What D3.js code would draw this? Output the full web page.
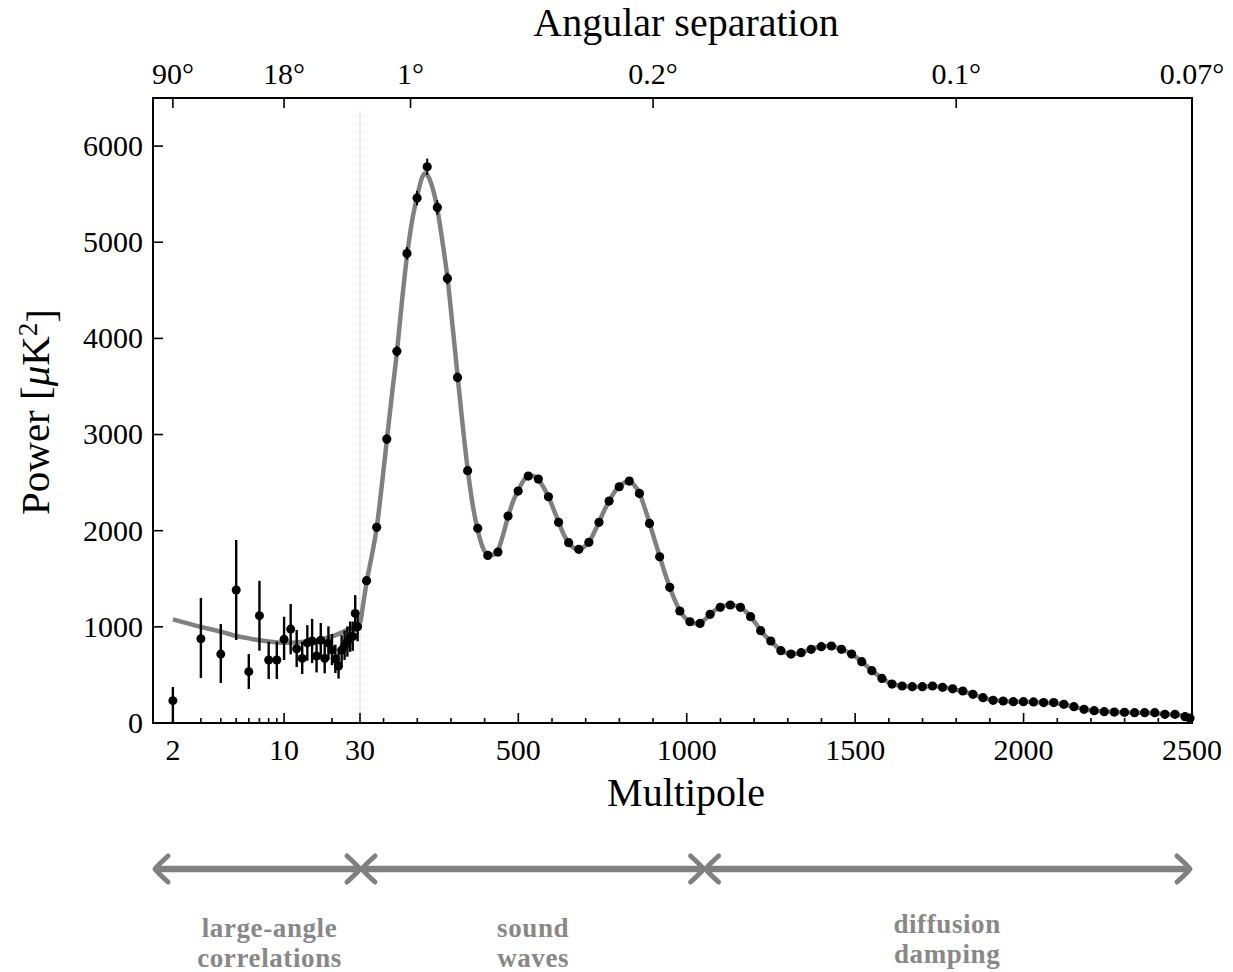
<!DOCTYPE html>
<html>
<head>
<meta charset="utf-8">
<script src="https://cdn.jsdelivr.net/npm/d3@7"></script>
<style>
  html, body { margin: 0; padding: 0; background: #fff; }
  svg { display: block; }
  text { font-family: "Liberation Serif", "DejaVu Serif", serif; }
</style>
</head>
<body>
<svg id="chart" width="1233" height="972"></svg>
<script>
// ---------------- DATA ----------------
// Low-multipole points (l = 2..29), with asymmetric error bars
const lowEll   = [2,3,4,5,6,7,8,9,10,11,12,13,14,15,16,17,18,19,20,21,22,23,24,25,26,27,28,29];
const lowPower = [232,876,717,1383,534,1116,655,655,870,977,772,672,833,853,696,860,672,830,762,665,592,758,805,845,895,900,1140,1000];
const lowErrMinus = [222,408,301,520,181,364,198,198,215,263,190,163,185,230,170,180,155,170,160,145,130,150,150,155,155,150,190,150];
const lowErrPlus  = [142,424,312,520,183,363,190,190,235,260,195,173,185,230,175,180,165,175,165,150,140,155,155,160,160,155,190,160];

// Binned high-multipole points
const binEll = [49.5,79.5,109.5,139.5,169.5,199.5,229.5,259.5,289.5,319.5,349.5,379.5,409.5,439.5,469.5,499.5,
  529.5,559.5,589.5,619.5,649.5,679.5,709.5,739.5,769.5,799.5,829.5,859.5,889.5,919.5,949.5,979.5,1009.5,1039.5,
  1069.5,1099.5,1129.5,1159.5,1189.5,1219.5,1249.5,1279.5,1309.5,1339.5,1369.5,1399.5,1429.5,1459.5,1489.5,1519.5,
  1549.5,1579.5,1609.5,1639.5,1669.5,1699.5,1729.5,1759.5,1789.5,1819.5,1849.5,1879.5,1909.5,1939.5,1969.5,1999.5,
  2029.5,2059.5,2089.5,2119.5,2149.5,2179.5,2209.5,2239.5,2269.5,2299.5,2329.5,2359.5,2389.5,2419.5,2449.5,2479.5,2494];
const binPower = [1480,2035,2953,3865,4884,5459,5785,5362,4624,3594,2624,2025,1743,1778,2152,2412,
  2568,2537,2353,2087,1875,1806,1879,2087,2308,2457,2516,2388,2076,1729,1411,1165,1053,1036,
  1130,1203,1227,1203,1106,960,853,752,717,731,766,794,801,766,717,638,
  544,464,405,385,378,378,385,371,355,333,298,263,236,229,222,222,
  219,212,212,194,170,142,128,118,114,111,107,107,107,90,90,66,50];
const binErr = [40,45,50,55,65,75,85,75,60,50,40,35,30,30,30,30,30,30,30,30,30,30,30,30,30,30,30,30,30,30,30,30,30,30,
  30,30,30,30,30,30,30,30,30,30,30,30,30,30,30,30,30,30,30,30,30,30,30,30,30,30,30,30,30,30,30,30,
  30,30,30,30,30,30,30,30,30,30,30,30,30,30,30,30,30];

// Best-fit model curve
const modelEll = [2,3,4,5,6,7,8,10,12,15,20,25,30,40,50,65,80,95,110,125,140,155,170,185,200,215,222,230,245,260,275,290,
  305,320,335,350,365,380,395,410,425,440,455,470,485,500,515,530,545,560,575,590,605,620,635,650,665,680,695,710,
  725,740,755,770,785,800,815,830,845,860,875,890,905,920,935,950,965,980,995,1010,1025,1040,1055,1070,1085,1100,
  1115,1130,1145,1160,1175,1190,1205,1220,1235,1250,1265,1280,1295,1310,1325,1340,1355,1370,1385,1400,1415,1430,
  1445,1460,1475,1490,1505,1520,1535,1550,1565,1580,1595,1610,1625,1640,1660,1680,1700,1720,1740,1760,1780,1800,
  1820,1840,1860,1880,1900,1920,1940,1960,1980,2000,2020,2040,2060,2080,2100,2120,2140,2160,2180,2200,2220,2240,
  2260,2280,2300,2340,2380,2420,2460,2500];
const modelPower = [1078,1000,950,905,880,860,848,835,838,855,900,970,1040,1250,1470,1740,2040,2480,2950,3420,3870,4400,4870,5230,5480,5680,5716,5700,5570,5340,5000,4620,
  4120,3600,3090,2630,2260,2000,1820,1750,1750,1800,1960,2150,2310,2420,2520,2570,2570,2530,2450,2350,2220,2090,1960,1870,1820,1805,1830,1885,
  1980,2090,2210,2310,2400,2460,2500,2510,2470,2385,2240,2075,1900,1730,1560,1410,1275,1165,1095,1055,1035,1040,1080,1130,1175,1205,
  1222,1227,1220,1200,1160,1105,1035,960,900,850,800,755,730,718,720,732,750,768,785,795,800,800,
  786,766,743,715,680,638,590,545,503,465,432,406,392,385,380,378,379,382,380,372,360,345,
  330,310,287,263,245,233,227,224,222,221,219,216,212,208,202,192,177,160,145,132,124,118,
  115,112,110,107,104,93,82,68];

// Axis tick definitions
const yTicks = [0,1000,2000,3000,4000,5000,6000];
const xMajorTicks = [2,10,30,500,1000,1500,2000,2500];
const xMinorTicks = [3,4,5,6,7,8,9,20,100,200,300,400,600,700,800,900,1100,1200,1300,1400,1600,1700,1800,1900,2100,2200,2300,2400];
const topTickEll = [2,10,180,900,1800,2500];
const topTickLabels = ["90°","18°","1°","0.2°","0.1°","0.07°"];

// Regime annotations
const regimeStart = [1.5, 30, 1050];
const regimeEnd   = [30, 1050, 2500];
const regimeLabels = [["large-angle","correlations"],["sound","waves"],["diffusion","damping"]];
const regimeLabelEll = [8.1, 544, 1773];

// ---------------- LAYOUT ----------------
const L = 153, R = 1192, T = 98, B = 723;
const svg = d3.select("#chart");

const xLog = d3.scaleLog().domain([1.5, 30]).range([L, 360]);
const xLin = d3.scaleLinear().domain([30, 2500]).range([360, R]);
const x = l => (l <= 30 ? xLog(l) : xLin(l));
const y = d3.scaleLinear().domain([0, 6500]).range([B, T]);

// dotted divider at l = 30
svg.append("line")
  .attr("x1", x(30)).attr("x2", x(30))
  .attr("y1", y(0)).attr("y2", y(6370))
  .attr("stroke", "#bbb").attr("stroke-width", 1)
  .attr("stroke-dasharray", "1,1");

// model curve
const modelData = modelEll.map((l, i) => [l, modelPower[i]]);
svg.append("path")
  .datum(modelData)
  .attr("fill", "none")
  .attr("stroke", "#808080")
  .attr("stroke-width", 4.5)
  .attr("stroke-linejoin", "round")
  .attr("d", d3.line().x(d => x(d[0])).y(d => y(d[1])).curve(d3.curveMonotoneX));

// low-l error bars + points
const lowG = svg.append("g");
lowEll.forEach((l, i) => {
  lowG.append("line")
    .attr("x1", x(l)).attr("x2", x(l))
    .attr("y1", y(Math.max(0, lowPower[i] - lowErrMinus[i])))
    .attr("y2", y(lowPower[i] + lowErrPlus[i]))
    .attr("stroke", "#000").attr("stroke-width", 2.4);
});
lowEll.forEach((l, i) => {
  lowG.append("circle").attr("cx", x(l)).attr("cy", y(lowPower[i])).attr("r", 4.5).attr("fill", "#000");
});

// binned points
const binG = svg.append("g");
binEll.forEach((l, i) => {
  binG.append("line")
    .attr("x1", x(l)).attr("x2", x(l))
    .attr("y1", y(binPower[i] - binErr[i])).attr("y2", y(binPower[i] + binErr[i]))
    .attr("stroke", "#000").attr("stroke-width", 2);
  binG.append("circle").attr("cx", x(l)).attr("cy", y(binPower[i])).attr("r", 4.6).attr("fill", "#000");
});

// frame
svg.append("rect")
  .attr("x", L).attr("y", T).attr("width", R - L).attr("height", B - T)
  .attr("fill", "none").attr("stroke", "#000").attr("stroke-width", 2);

// ticks (inward)
const axG = svg.append("g").attr("stroke", "#000").attr("stroke-width", 1.6);
xMajorTicks.forEach(l => {
  axG.append("line").attr("x1", x(l)).attr("x2", x(l)).attr("y1", B).attr("y2", B - 10);
});
xMinorTicks.forEach(l => {
  axG.append("line").attr("x1", x(l)).attr("x2", x(l)).attr("y1", B).attr("y2", B - 5);
});
topTickEll.forEach(l => {
  axG.append("line").attr("x1", x(l)).attr("x2", x(l)).attr("y1", T).attr("y2", T + 10);
});
yTicks.forEach(v => {
  axG.append("line").attr("x1", L).attr("x2", L + 10).attr("y1", y(v)).attr("y2", y(v));
});

// tick labels
const tickFont = 30;
svg.append("g").selectAll("text").data(xMajorTicks).join("text")
  .attr("x", d => x(d)).attr("y", 760)
  .attr("text-anchor", "middle").attr("font-size", tickFont).attr("fill", "#000")
  .text(d => d);
svg.append("g").selectAll("text").data(yTicks).join("text")
  .attr("x", 143).attr("y", d => y(d)).attr("dy", "0.33em")
  .attr("text-anchor", "end").attr("font-size", tickFont).attr("fill", "#000")
  .text(d => d);
svg.append("g").selectAll("text").data(topTickEll).join("text")
  .attr("x", d => x(d)).attr("y", 84)
  .attr("text-anchor", "middle").attr("font-size", tickFont).attr("fill", "#000")
  .text((d, i) => topTickLabels[i]);

// axis titles
svg.append("text").attr("x", 686).attr("y", 806).attr("text-anchor", "middle")
  .attr("font-size", 40).text("Multipole");
svg.append("text").attr("x", 686).attr("y", 36).attr("text-anchor", "middle")
  .attr("font-size", 40).text("Angular separation");
const yt = svg.append("text").attr("transform", "translate(49,412) rotate(-90)")
  .attr("text-anchor", "middle").attr("font-size", 41);
yt.append("tspan").text("Power [");
yt.append("tspan").attr("font-style", "italic").text("μ");
yt.append("tspan").text("K");
yt.append("tspan").attr("dy", "-0.45em").attr("font-size", 27).text("2");
yt.append("tspan").attr("dy", "0.45em").text("]");

// regime arrows
const arrowY = 869;
const arrG = svg.append("g").attr("stroke", "#808080").attr("fill", "none")
  .attr("stroke-linecap", "round").attr("stroke-linejoin", "round");
function head(tx, dir) {
  const bx = tx - dir * 13;
  return `M${bx},${arrowY - 13} Q${tx - dir * 3},${arrowY - 4} ${tx},${arrowY} Q${tx - dir * 3},${arrowY + 4} ${bx},${arrowY + 13}`;
}
regimeStart.forEach((s, i) => {
  const x0 = x(s) + 2, x1 = x(regimeEnd[i]) + (i === 2 ? -2 : 0);
  arrG.append("line").attr("x1", x0 + 2).attr("x2", x1 - 2).attr("y1", arrowY).attr("y2", arrowY)
    .attr("stroke-width", 6.5).attr("stroke-linecap", "butt");
  arrG.append("path").attr("d", head(x0, -1)).attr("stroke-width", 5);
  arrG.append("path").attr("d", head(x1, 1)).attr("stroke-width", 5);
});

// regime labels
regimeLabels.forEach((lines, i) => {
  const cx = x(regimeLabelEll[i]);
  const base = i === 2 ? 933 : 937;
  lines.forEach((t, j) => {
    svg.append("text").attr("x", cx).attr("y", base + j * 30)
      .attr("text-anchor", "middle").attr("font-size", 27).attr("font-weight", "bold")
      .attr("letter-spacing", 0.6)
      .attr("fill", "#888").text(t);
  });
});
</script>
</body>
</html>
